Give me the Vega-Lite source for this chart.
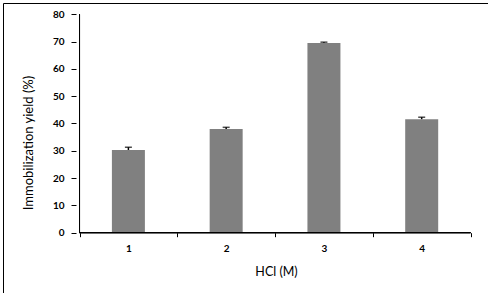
{
  "$schema": "https://vega.github.io/schema/vega-lite/v6.json",
  "width": 485,
  "height": 290,
  "autosize": {"type": "none"},
  "padding": {"left": 3, "top": 3, "right": 0, "bottom": 0},
  "background": "white",
  "config": {
    "view": {"stroke": "black", "strokeWidth": 1},
    "axis": {"labelFont": "Lato", "titleFont": "Lato", "labelColor": "black", "titleColor": "black", "grid": false, "domain": false}
  },
  "data": {"values": [
    {"HCl": 1, "yield": 30.3, "upper": 31.3},
    {"HCl": 2, "yield": 38.0, "upper": 38.6},
    {"HCl": 3, "yield": 69.5, "upper": 69.8},
    {"HCl": 4, "yield": 41.6, "upper": 42.3}
  ]},
  "layer": [
    {
      "mark": {"type": "bar", "color": "#808080", "size": 33},
      "encoding": {
        "x": {
          "field": "HCl", "type": "quantitative",
          "scale": {"domain": [-0.2315, 4.627], "nice": false, "zero": false},
          "axis": {
            "title": "HCl (M)",
            "titleFontSize": 12.5, "titleFontWeight": "normal",
            "titleX": 273, "titleY": 39, "titleBaseline": "middle", "titleAlign": "center",
            "values": [0.5, 1, 1.5, 2, 2.5, 3, 3.5, 4, 4.5],
            "tickCount": 20,
            "format": "~g",
            "labelExpr": "datum.value % 1 == 0 ? datum.label : ''",
            "labelOverlap": false,
            "labelFontSize": 10, "labelFontWeight": "bold", "labelPadding": 7,
            "tickSize": 4, "tickWidth": 1,
            "tickColor": {"condition": {"test": "datum.value % 1 == 0", "value": "transparent"}, "value": "black"},
            "offset": -60.3
          }
        },
        "y": {
          "field": "yield", "type": "quantitative",
          "scale": {"domain": [-22.09, 84.14], "nice": false, "zero": false},
          "axis": {
            "title": "Immobilization yield (%)",
            "titleFontSize": 13, "titleFontWeight": "normal",
            "titleX": -48, "titleY": 139.5, "titleAngle": -90, "titleBaseline": "middle", "titleAlign": "center",
            "values": [0, 10, 20, 30, 40, 50, 60, 70, 80],
            "tickCount": 20,
            "labelOverlap": false,
            "labelFontSize": 10, "labelFontWeight": "bold", "labelPadding": 7,
            "tickSize": 5, "tickColor": "black", "tickWidth": 1,
            "offset": -73
          }
        },
        "y2": {"datum": 0}
      }
    },
    {
      "mark": {"type": "rule", "color": "black", "strokeWidth": 1.5},
      "encoding": {
        "x": {"field": "HCl", "type": "quantitative"},
        "y": {"field": "yield", "type": "quantitative"},
        "y2": {"field": "upper"}
      }
    },
    {
      "mark": {"type": "tick", "orient": "horizontal", "color": "black", "size": 7, "thickness": 1.5},
      "encoding": {
        "x": {"field": "HCl", "type": "quantitative"},
        "y": {"field": "upper", "type": "quantitative"}
      }
    },
    {
      "mark": {"type": "rule", "color": "black", "strokeWidth": 1},
      "encoding": {
        "x": {"datum": 0.5},
        "y": {"datum": 0},
        "y2": {"datum": 80}
      }
    },
    {
      "mark": {"type": "rule", "color": "black", "strokeWidth": 1},
      "encoding": {
        "x": {"datum": 0.5},
        "x2": {"datum": 4.5},
        "y": {"datum": 0}
      }
    }
  ]
}
